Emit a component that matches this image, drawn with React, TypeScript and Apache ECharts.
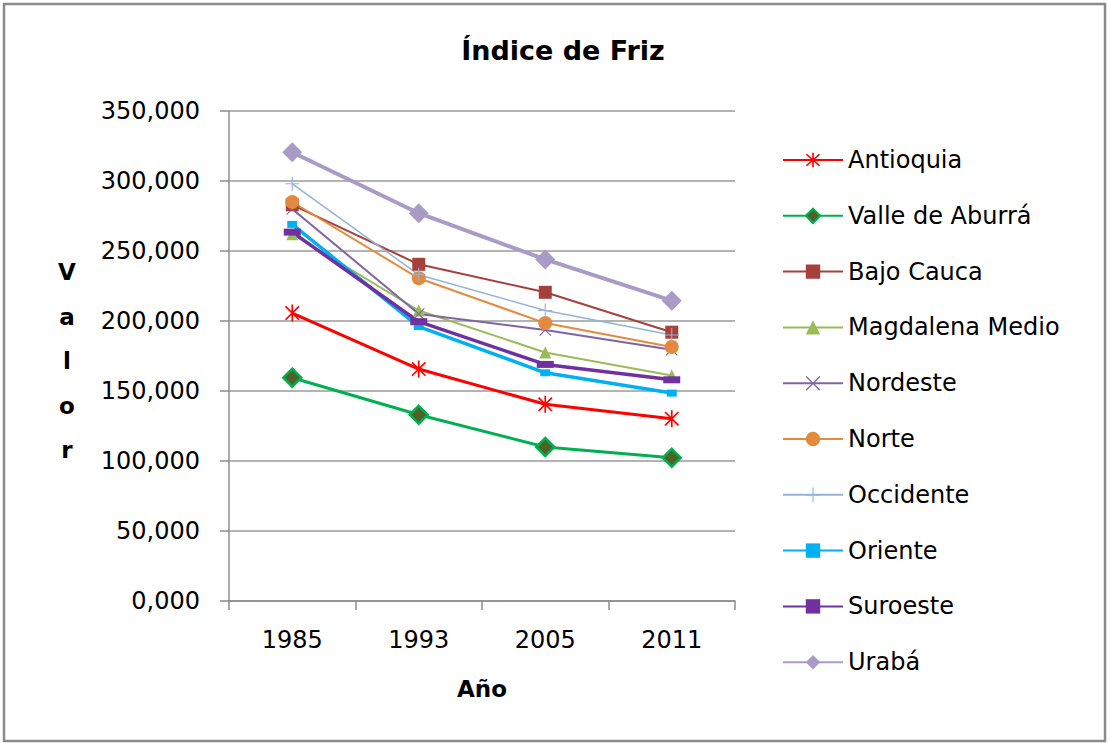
import React, { useEffect, useRef } from "react";
import * as echarts from "echarts";

const years = ["1985", "1993", "2005", "2011"];
const antioquia = [205.7, 165.7, 140.5, 130.2];
const valleAburra = [159.5, 133.0, 110.0, 102.3];
const bajoCauca = [283.0, 240.5, 220.5, 192.0];
const magdalenaMedio = [262.0, 207.5, 177.5, 161.0];
const nordeste = [280.0, 205.0, 193.5, 179.5];
const norte = [285.0, 230.5, 198.5, 181.5];
const occidente = [298.0, 233.0, 207.5, 190.0];
const oriente = [269.0, 196.0, 163.0, 148.5];
const suroeste = [263.5, 199.5, 169.0, 158.0];
const uraba = [320.5, 277.0, 244.0, 214.5];

const FONT = "DejaVu Sans";

const asterisk =
  "path://M9,0L11,0L11,20L9,20Z M1.4,2.8L2.8,1.4L18.6,17.2L17.2,18.6Z M17.2,1.4L18.6,2.8L2.8,18.6L1.4,17.2Z";
const plus = "path://M9.2,0L10.8,0L10.8,20L9.2,20Z M0,9.2L20,9.2L20,10.8L0,10.8Z";
const cross =
  "path://M1.1,2.2L2.2,1.1L18.9,17.8L17.8,18.9Z M17.8,1.1L18.9,2.2L2.2,18.9L1.1,17.8Z";
const shortDash = "path://M0,0L10,0L10,7L0,7Z";
const longDash = "path://M0,0L17,0L17,7L0,7Z";

export default function App() {
  const ref = useRef<HTMLDivElement>(null);
  useEffect(() => {
    document.body.style.margin = "0";
    const chart = echarts.init(ref.current!, null, { renderer: "svg" });
    const mk = (
      name: string,
      data: number[],
      color: string,
      width: number,
      symbol: string,
      size: number | number[],
      extra: any = {}
    ) => ({
      name,
      type: "line",
      data,
      symbol,
      symbolSize: size,
      symbolKeepAspect: true,
      lineStyle: { color, width },
      itemStyle: { color, ...(extra.itemStyle || {}) },
      emphasis: { disabled: true },
      z: extra.z || 2,
    });
    chart.setOption({
      animation: false,
      backgroundColor: "#ffffff",
      title: {
        text: "Índice de Friz",
        left: 558,
        textAlign: "center",
        top: 32,
        textStyle: { fontFamily: FONT, fontSize: 27, fontWeight: "bold", color: "#000" },
      },
      grid: { left: 229, right: 374, top: 111, bottom: 142 },
      legend: {
        orient: "vertical",
        left: 777,
        top: 143,
        itemWidth: 60,
        itemHeight: 18,
        itemGap: 31.8,
        textStyle: { fontFamily: FONT, fontSize: 24, color: "#000", lineHeight: 24 },
        selectedMode: false,
      },
      xAxis: {
        type: "category",
        data: years,
        boundaryGap: true,
        name: "Año",
        nameLocation: "middle",
        nameGap: 76,
        nameTextStyle: { fontFamily: FONT, fontSize: 23, fontWeight: "bold", color: "#000" },
        axisLine: { lineStyle: { color: "#8c8c8c", width: 1.5 } },
        axisTick: { show: true, length: 9, lineStyle: { color: "#8c8c8c", width: 1.5 } },
        axisLabel: { fontFamily: FONT, fontSize: 24, color: "#000", margin: 27 },
      },
      yAxis: {
        type: "value",
        min: 0,
        max: 350,
        interval: 50,
        axisLine: { show: true, lineStyle: { color: "#8c8c8c", width: 1.5 } },
        axisTick: { show: true, length: 9, lineStyle: { color: "#8c8c8c", width: 1.5 } },
        splitLine: { lineStyle: { color: "#9a9a9a", width: 1.5 } },
        axisLabel: {
          fontFamily: FONT,
          fontSize: 24,
          color: "#000",
          margin: 29,
          formatter: (v: number) => v.toFixed(3).replace(".", ","),
        },
      },
      graphic: [
        {
          type: "rect",
          shape: { x: 4, y: 4, width: 1101, height: 737 },
          style: { fill: "none", stroke: "#8a8a8a", lineWidth: 2.5 },
          silent: true,
        },
        {
          type: "text",
          x: 67,
          y: 361,
          style: {
            text: "V\na\nl\no\nr",
            fontFamily: FONT,
            fontSize: 23,
            fontWeight: "bold",
            lineHeight: 44.5,
            fill: "#000",
            align: "center",
            verticalAlign: "middle",
          },
        },
      ],
      series: [
        mk("Antioquia", antioquia, "#ff0000", 3, asterisk, 17),
        mk("Valle de Aburrá", valleAburra, "#00b050", 3, "diamond", 18, {
          itemStyle: { color: "#4f6228", borderColor: "#00b050", borderWidth: 2.5 },
        }),
        mk("Bajo Cauca", bajoCauca, "#a5403d", 2, "rect", 13),
        mk("Magdalena Medio", magdalenaMedio, "#9bbb59", 2, "triangle", 12),
        mk("Nordeste", nordeste, "#8064a2", 2, cross, 12),
        mk("Norte", norte, "#e38a3e", 2, "circle", 14),
        mk("Occidente", occidente, "#95b3d7", 1.5, plus, 14),
        mk("Oriente", oriente, "#00b0f0", 3.5, shortDash, 10),
        mk("Suroeste", suroeste, "#7030a0", 3.5, longDash, 17),
        mk("Urabá", uraba, "#a89bc6", 4, "diamond", 20),
      ],
    });
    return () => chart.dispose();
  }, []);
  return <div ref={ref} style={{ width: 1109, height: 743 }} />;
}
